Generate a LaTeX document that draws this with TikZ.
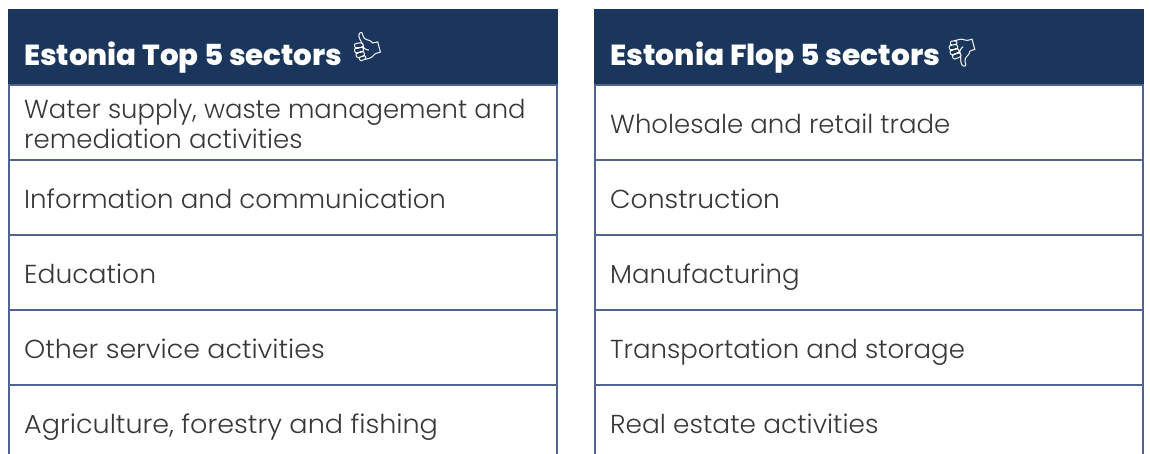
\documentclass[tikz,border=0pt]{standalone}
\usepackage{fontspec}
\setmainfont{Poppins Light}
\newfontfamily\headfont{Poppins ExtraBold}
\newfontfamily\emojifont{Noto Emoji}
\definecolor{navy}{HTML}{1B365D}
\definecolor{rulecol}{HTML}{4F6590}
\definecolor{inkcol}{HTML}{383838}
\tikzset{
  x=1pt,y=-1pt,
  headbox/.style={fill=navy,draw=none},
  rulel/.style={draw=rulecol,line width=1.5pt},
  headtext/.style={anchor=base west,inner sep=0pt,text=white,font=\headfont\fontsize{29}{29}\selectfont},
  celltext/.style={anchor=base west,inner sep=0pt,text=inkcol,font=\fontsize{26}{30}\selectfont,align=left},
  icon/.style={inner sep=0pt,text=white,font=\emojifont\fontsize{28}{28}\selectfont}
}
\begin{document}
\begin{tikzpicture}
\useasboundingbox (0,0) rectangle (1150,454);
\fill[white] (0,0) rectangle (1150,454);
% left table
\fill[headbox] (8,9) rectangle (558,85);
\foreach \y in {85,160,235,310,385}{\draw[rulel] (8,\y) -- (558,\y);}
\draw[rulel] (9,85) -- (9,454);
\draw[rulel] (557,85) -- (557,454);
% right table
\fill[headbox] (594,9) rectangle (1144,85);
\foreach \y in {85,160,235,310,385}{\draw[rulel] (594,\y) -- (1144,\y);}
\draw[rulel] (595,85) -- (595,454);
\draw[rulel] (1143,85) -- (1143,454);
% headers
\node[headtext,xscale=1.01] (h1) at (24,65.5) {Estonia Top 5 sectors};
\node[icon,rotate=15,xscale=-1] (i1) at (366,46) {\symbol{"1F44D}};
\node[headtext,xscale=1.023] (h2) at (610,65.5) {Estonia Flop 5 sectors};
\node[icon,rotate=15,xscale=-1] (i2) at (963,53) {\symbol{"1F44E}};
% left cells
\node[celltext,xscale=0.994] (l1a) at (24,118.7) {Water supply, waste management and};
\node[celltext] (l1b) at (24,148.7) {remediation activities};
\node[celltext] (l2) at (24,208.7) {Information and communication};
\node[celltext,xscale=1.023] (l3) at (24,283.5) {Education};
\node[celltext,xscale=1.034] (l4) at (24,358.5) {Other service activities};
\node[celltext,xscale=1.04] (l5) at (24,433.5) {Agriculture, forestry and fishing};
% right cells
\node[celltext] (r1) at (610,133.7) {Wholesale and retail trade};
\node[celltext,xscale=1.024] (r2) at (610,208.7) {Construction};
\node[celltext] (r3) at (610,283.5) {Manufacturing};
\node[celltext] (r4) at (610,358.5) {Transportation and storage};
\node[celltext,xscale=1.015] (r5) at (610,433.5) {Real estate activities};
\end{tikzpicture}
\end{document}
